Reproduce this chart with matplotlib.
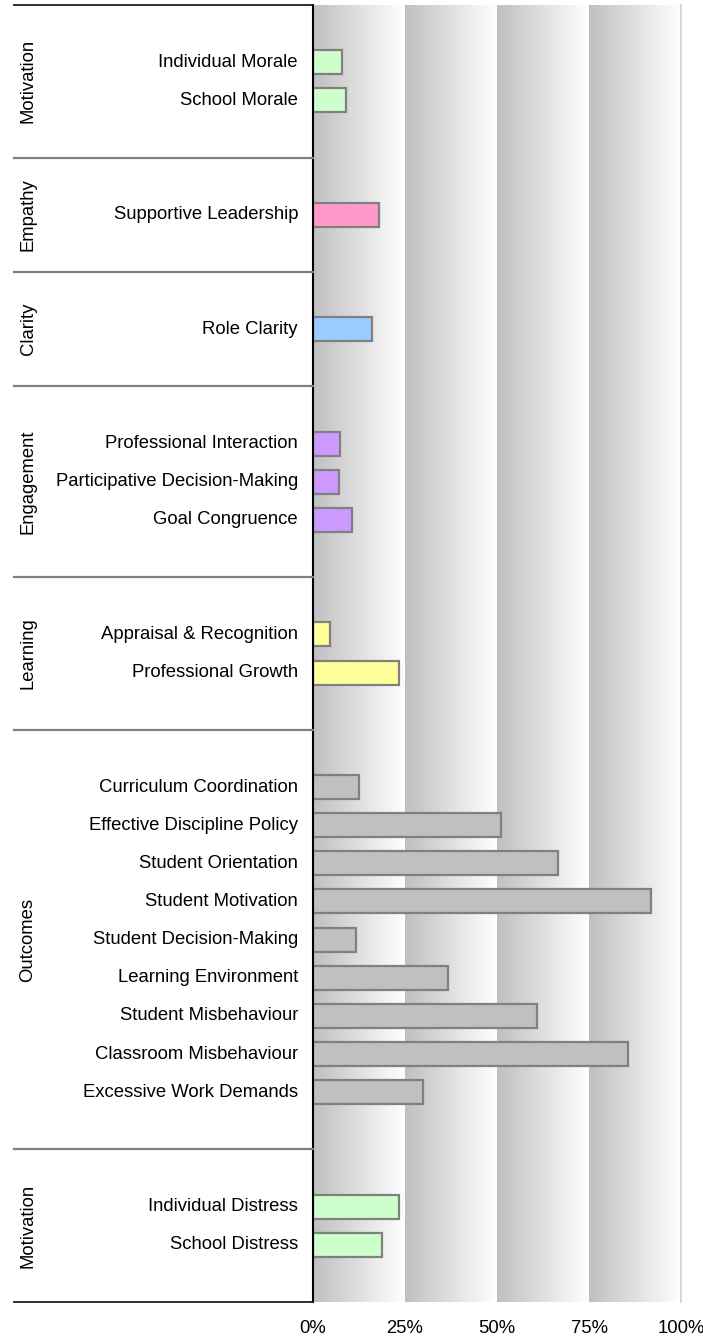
import matplotlib
matplotlib.use("Agg")
import matplotlib.pyplot as plt
import numpy as np
from matplotlib.colors import LinearSegmentedColormap

plt.rcParams['font.family'] = ['Liberation Sans', 'DejaVu Sans']

# ---- data ----
groups = ["Motivation", "Empathy", "Clarity", "Engagement", "Learning", "Outcomes", "Motivation"]
group_items = [
    ["Individual Morale", "School Morale"],
    ["Supportive Leadership"],
    ["Role Clarity"],
    ["Professional Interaction", "Participative Decision-Making", "Goal Congruence"],
    ["Appraisal & Recognition", "Professional Growth"],
    ["Curriculum Coordination", "Effective Discipline Policy", "Student Orientation",
     "Student Motivation", "Student Decision-Making", "Learning Environment",
     "Student Misbehaviour", "Classroom Misbehaviour", "Excessive Work Demands"],
    ["Individual Distress", "School Distress"],
]
group_values = [
    [8.0, 9.1],
    [18.0],
    [15.9],
    [7.3, 7.0, 10.6],
    [4.6, 23.5],
    [12.5, 51.1, 66.6, 91.8, 11.7, 36.7, 60.9, 85.6, 29.9],
    [23.4, 18.8],
]
group_colors = ["#ccffcc", "#ff99cc", "#99ccff", "#cc99ff", "#ffff99", "#c0c0c0", "#ccffcc"]
tick_values = [0, 25, 50, 75, 100]
tick_labels = ["0%", "25%", "50%", "75%", "100%"]

# ---- figure ----
W, H = 703, 1339
FS = 13.3
fig = plt.figure(figsize=(W / 100, H / 100), dpi=100)
top_px, bot_px = 5, 1302
x0_px, x1_px = 313, 681
left_px = 14
ax = fig.add_axes([x0_px / W, (H - bot_px) / H, (x1_px - x0_px) / W, (bot_px - top_px) / H])
axl = fig.add_axes([left_px / W, (H - bot_px) / H, (x0_px - left_px) / W, (bot_px - top_px) / H])

sizes = [len(it) + 2 for it in group_items]
total = sum(sizes)
bounds = np.concatenate([[0], np.cumsum(sizes)])

# background gradient bands
cmap = LinearSegmentedColormap.from_list("band", ["#c0c0c0", "#ffffff"])
grad = np.linspace(0, 1, 256).reshape(1, -1)
for a in tick_values[:-1]:
    ax.imshow(grad, cmap=cmap, aspect='auto', extent=[a, a + 25, total, 0],
              interpolation='bilinear', zorder=0)
ax.axvline(100, color="#d0d0d0", lw=1.2, zorder=1, clip_on=False)

# bars
for gi, (items, vals, col) in enumerate(zip(group_items, group_values, group_colors)):
    start = bounds[gi] + 1
    for k, (name, v) in enumerate(zip(items, vals)):
        yc = start + k + 0.5
        ax.barh(yc, v, height=0.63, left=0, color=col, edgecolor="#808080",
                linewidth=1.6, zorder=3)
        axl.text(x0_px - left_px - 15, yc, name, ha='right', va='center', fontsize=FS,
                 color='black')
    axl.text(14, (bounds[gi] + bounds[gi + 1]) / 2, groups[gi], rotation=90,
             ha='center', va='center', fontsize=FS, color='black')

ax.set_xlim(0, 100)
ax.set_ylim(total, 0)
ax.set_yticks([])
ax.set_xticks(tick_values)
ax.set_xticklabels(tick_labels, fontsize=FS)
ax.tick_params(axis='x', length=0, pad=13)
for s in ax.spines.values():
    s.set_visible(False)
ax.axvline(0, color='black', lw=1.5, zorder=5, clip_on=False)

# left panel
axl.set_xlim(0, x0_px - left_px)
axl.set_ylim(total, 0)
axl.axis('off')
for i, b in enumerate(bounds):
    if i == 0 or i == len(bounds) - 1:
        axl.axhline(b, color='#202020', lw=1.3, clip_on=False)
    else:
        axl.axhline(b, color='#808080', lw=1.6, clip_on=False)

fig.savefig("out.png", dpi=100)
